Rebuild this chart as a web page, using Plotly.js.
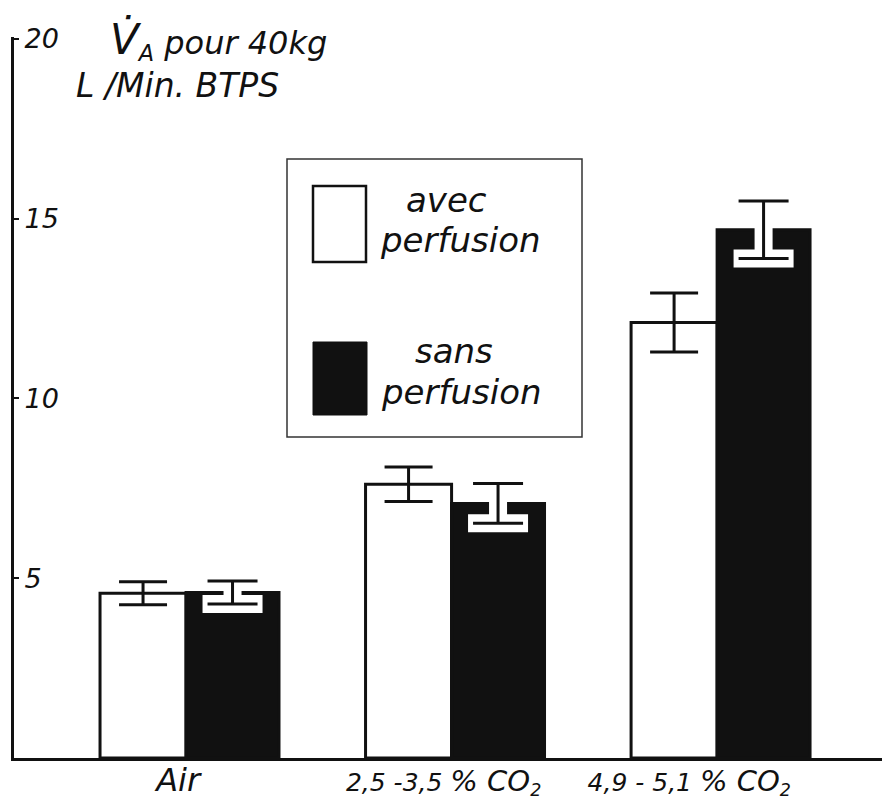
<!DOCTYPE html>
<html>
<head>
<meta charset="utf-8">
<script src="https://cdn.plot.ly/plotly-3.0.1.min.js"></script>
<style>html,body{margin:0;padding:0;background:#fff;}#chart{width:882px;height:805px;}</style>
</head>
<body>
<div id="chart"></div>
<script>
// ---- data ----
var categoryPos = [0, 1, 2];
var categoryLabels = [
  '<span style="font-size:32px">Air</span>\u00a0\u00a0',
  '2,5 -3,5 <span style="font-size:29px">% CO</span><sub>2</sub>\u00a0\u00a0',
  '4,9 - 5,1 <span style="font-size:29px">% CO</span><sub>2</sub>\u00a0\u00a0\u00a0\u00a0\u00a0\u00a0\u00a0'
];
var avecPerfusion = [4.58, 7.61, 12.11];
var avecErr = [0.32, 0.48, 0.82];
var sansPerfusion = [4.60, 7.08, 14.69];
var sansErr = [0.32, 0.55, 0.80];
var yTickVals = [5, 10, 15, 20];
var yTickText = ['5', '10', '15', '20'];
var titleLine1 = '<span style="font-size:42px">V\u0307</span><sub>A</sub> pour 40kg';
var titleLine2 = 'L /Min. BTPS';
var legendAvec = ['avec', 'perfusion'];
var legendSans = ['sans', 'perfusion'];

var FONT = 'DejaVu Sans';
var INK = '#111';

var traces = [
  {
    type: 'bar', x: categoryPos, y: avecPerfusion,
    offset: -0.324, width: 0.324,
    marker: {color: '#ffffff', line: {color: INK, width: 3}},
    error_y: {type: 'data', array: avecErr, visible: true, color: INK, thickness: 3, width: 24},
    showlegend: false, hoverinfo: 'skip'
  },
  {
    type: 'bar', x: categoryPos, y: sansPerfusion,
    offset: 0, width: 0.35,
    marker: {color: INK, line: {color: INK, width: 3}},
    error_y: {type: 'data', array: sansErr, visible: true, color: '#ffffff', thickness: 18, width: 30},
    showlegend: false, hoverinfo: 'skip'
  },
  {
    type: 'bar', x: categoryPos, y: sansPerfusion,
    offset: 0, width: 0.35,
    marker: {color: 'rgba(0,0,0,0)', line: {width: 0}},
    error_y: {type: 'data', array: sansErr, visible: true, color: INK, thickness: 3, width: 25},
    showlegend: false, hoverinfo: 'skip'
  }
];

function px2x(px){ return (px - 14) / 868; }
function px2y(py){ return (758 - py) / 721; }

var titleFont = {family: FONT, size: 32, color: INK, style: 'italic'};
var legFont = {family: FONT, size: 34, color: INK, style: 'italic'};
var annotations = [
  {text: titleLine1, xref: 'paper', yref: 'paper', x: px2x(108), y: px2y(40), xanchor: 'left', yanchor: 'middle', showarrow: false, font: titleFont},
  {text: titleLine2, xref: 'paper', yref: 'paper', x: px2x(74), y: px2y(86), xanchor: 'left', yanchor: 'middle', showarrow: false, font: {family: FONT, size: 33, color: INK, style: 'italic'}},
  {text: legendAvec[0], xref: 'paper', yref: 'paper', x: px2x(404), y: px2y(200), xanchor: 'left', yanchor: 'middle', showarrow: false, font: legFont},
  {text: legendAvec[1], xref: 'paper', yref: 'paper', x: px2x(378), y: px2y(240), xanchor: 'left', yanchor: 'middle', showarrow: false, font: legFont},
  {text: legendSans[0], xref: 'paper', yref: 'paper', x: px2x(413), y: px2y(351), xanchor: 'left', yanchor: 'middle', showarrow: false, font: legFont},
  {text: legendSans[1], xref: 'paper', yref: 'paper', x: px2x(379), y: px2y(392), xanchor: 'left', yanchor: 'middle', showarrow: false, font: legFont}
];

var shapes = [
  {type: 'rect', xref: 'paper', yref: 'paper', x0: px2x(287), x1: px2x(582), y0: px2y(437), y1: px2y(159), line: {color: '#333', width: 1.5}, fillcolor: '#ffffff', layer: 'below'},
  {type: 'rect', xref: 'paper', yref: 'paper', x0: px2x(313), x1: px2x(366), y0: px2y(262), y1: px2y(186), line: {color: INK, width: 2.5}, fillcolor: '#ffffff'},
  {type: 'rect', xref: 'paper', yref: 'paper', x0: px2x(313), x1: px2x(367), y0: px2y(415), y1: px2y(342), line: {color: INK, width: 1}, fillcolor: INK}
];

var layout = {
  width: 882, height: 805,
  margin: {l: 14, r: 0, t: 37, b: 47},
  paper_bgcolor: '#ffffff', plot_bgcolor: 'rgba(0,0,0,0)',
  barmode: 'overlay',
  showlegend: false,
  font: {family: FONT, color: INK, style: 'italic'},
  xaxis: {
    range: [-0.648, 2.621], tickvals: categoryPos, ticktext: categoryLabels,
    showline: true, linecolor: INK, linewidth: 3, ticks: '', showgrid: false, zeroline: false,
    ticklabelstandoff: 0,
    tickfont: {family: FONT, size: 25, color: INK, style: 'italic'}
  },
  yaxis: {
    range: [0, 20.05], tickvals: yTickVals, ticktext: yTickText,
    showline: true, linecolor: INK, linewidth: 3, ticks: 'inside', ticklen: 5, tickwidth: 2, tickcolor: INK,
    ticklabelposition: 'inside', ticklabeloverflow: 'allow', ticklabelstandoff: 8,
    showgrid: false, zeroline: false,
    tickfont: {family: FONT, size: 27, color: INK, style: 'italic'}
  },
  annotations: annotations,
  shapes: shapes
};

Plotly.newPlot('chart', traces, layout, {staticPlot: true, displayModeBar: false});
</script>
</body>
</html>
